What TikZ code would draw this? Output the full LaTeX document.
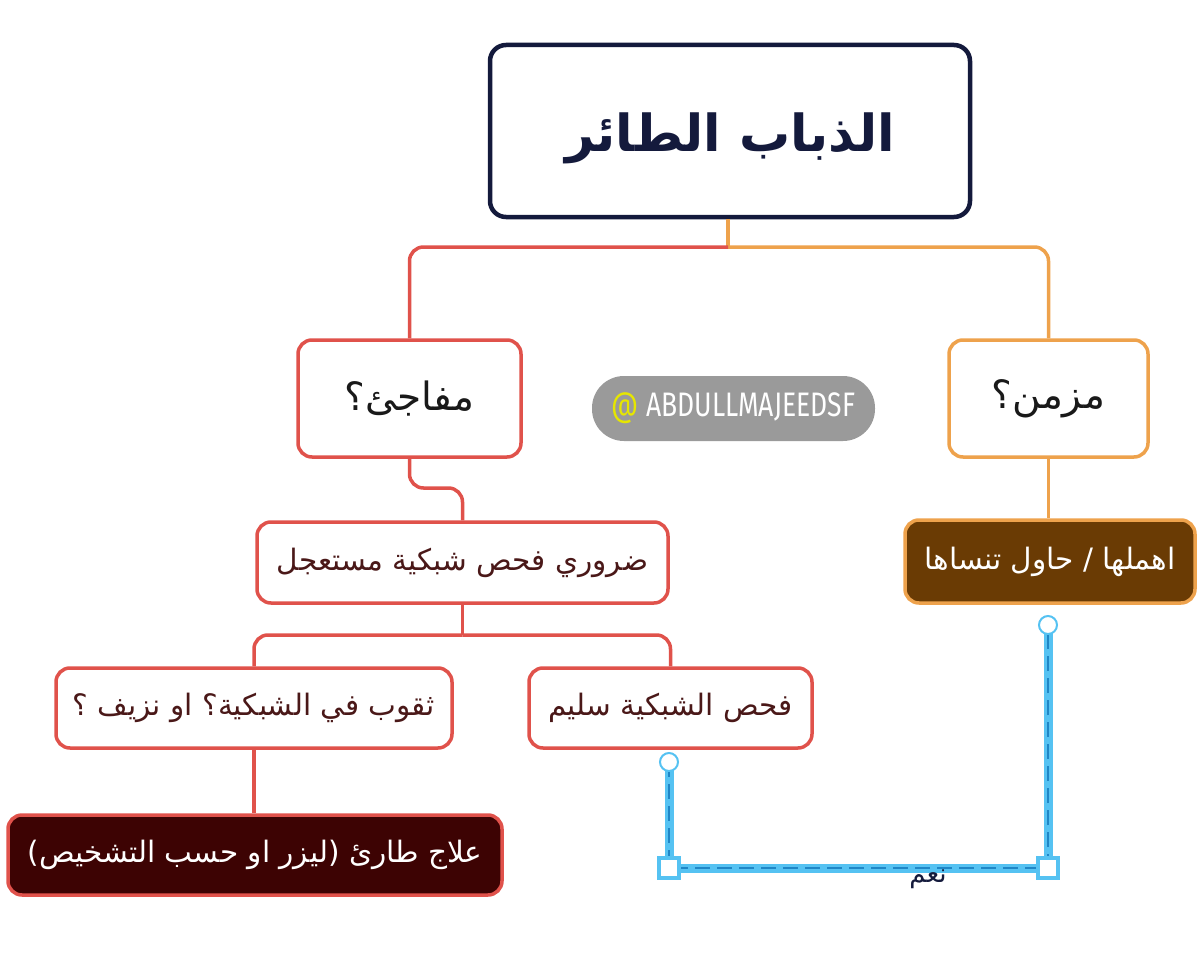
\documentclass[tikz,border=0pt]{standalone}
\usepackage{fontspec}
\setmainfont{DejaVu Sans}
\newfontfamily\arf[Script=Arabic]{DejaVu Sans}
\newfontfamily\wmf[FakeStretch=0.78]{Fira Sans}
\TeXXeTstate=1
\definecolor{navyc}{HTML}{141A3C}
\definecolor{redc}{HTML}{E0524B}
\definecolor{orangec}{HTML}{EEA24C}
\definecolor{maroonc}{HTML}{3D0303}
\definecolor{brownc}{HTML}{6A3B04}
\definecolor{subtext}{HTML}{4A1818}
\definecolor{grayc}{HTML}{9A9A9A}
\definecolor{yellowc}{HTML}{E6E600}
\definecolor{bluel}{HTML}{55C2F2}
\definecolor{blued}{HTML}{1F86C6}
\begin{document}
\begin{tikzpicture}[x=1pt,y=-1pt,
  box/.style={draw, line width=3.5pt, rounded corners=14pt, fill=white, align=center, inner sep=0pt},
  redbox/.style={box, draw=redc},
  orangebox/.style={box, draw=orangec},
  link/.style={line width=3.5pt, rounded corners=14pt},
  bigtxt/.style={font=\arf\fontsize{39}{44}\selectfont, text=black!90},
  subtxt/.style={font=\arf\fontsize{29.5}{34}\selectfont, text=subtext},
  bluethick/.style={line width=9pt, draw=bluel},
  bluedash/.style={line width=1.8pt, draw=blued, dash pattern=on 15pt off 7pt},
  endcirc/.style={circle, draw=bluel, line width=2pt, fill=white, minimum size=18pt, inner sep=0pt},
  endsq/.style={rectangle, draw=bluel, line width=3.5pt, fill=white, minimum size=20pt, inner sep=0pt}
]
\useasboundingbox (0,0) rectangle (1200,966);

% nodes
\node[box, draw=navyc, line width=4.5pt, rounded corners=16pt, minimum width=480pt, minimum height=172pt,
      font=\arf\bfseries\fontsize{51}{58}\selectfont, text=navyc] (t) at (730,131) {\raisebox{-7pt}[\height][\depth]{\beginR الذباب الطائر\endR}};
\node[redbox, minimum width=223pt, minimum height=117pt, bigtxt] (m) at (409.5,398.5) {\beginR مفاجئ؟\endR};
\node[orangebox, minimum width=199pt, minimum height=117pt, bigtxt] (z) at (1048.5,398.5) {\beginR مزمن؟\endR};
\node[redbox, minimum width=411pt, minimum height=81pt, subtxt] (d) at (462.5,562.5) {\beginR ضروري فحص شبكية مستعجل\endR};
\node[redbox, minimum width=396pt, minimum height=80pt, subtxt] (h) at (254,708) {\beginR ثقوب في الشبكية؟ او نزيف ؟\endR};
\node[redbox, minimum width=283pt, minimum height=80pt, subtxt] (s) at (670.5,708) {\beginR فحص الشبكية سليم\endR};
\node[redbox, fill=maroonc, minimum width=494pt, minimum height=80pt, subtxt, text=white] (a) at (255,855) {\beginR علاج طارئ (ليزر او حسب التشخيص)\endR};
\node[orangebox, fill=brownc, minimum width=290pt, minimum height=83pt, subtxt, text=white] (n) at (1050,561.5) {\beginR اهملها / حاول تنساها\endR};
\node[fill=grayc, rounded corners=32pt, minimum width=283pt, minimum height=65pt, inner sep=0pt,
      font=\wmf\fontsize{34}{38}\selectfont, text=white] (w) at (733.5,408.5) {\textcolor{yellowc}{@} ABDULLMAJEEDSF};

% tree connectors
\coordinate (j) at (728,247);
\draw[line width=3.5pt, orangec] (t.south -| j) -- (j);
\draw[link, orangec] (j) -| (z.north);
\draw[link, redc] (j) -| (m.north);
\coordinate (k1) at (462.5,488);
\draw[link, redc] (m.south) |- (k1) -- (d.north);
\coordinate (k2) at (462.5,635);
\draw[line width=3.5pt, redc] (d.south) -- (k2);
\draw[link, redc] (k2) -| (h.north);
\draw[link, redc] (k2) -| (s.north);
\draw[line width=3.5pt, redc] (h.south) -- (h.south |- a.north);
\draw[line width=3.5pt, orangec] (z.south) -- (z.south |- n.north);

% blue connector
\coordinate (b1) at (669,762);
\coordinate (b2) at (669,868);
\coordinate (b3) at (1048,868);
\coordinate (b4) at (1048,625);
\draw[bluethick] (b1) -- (b2) -- (b3) -- (b4);
\draw[bluedash] (b1) -- (b2) -- (b3) -- (b4);
\node[endcirc] (c1) at (b1) {};
\node[endcirc] (c4) at (b4) {};
\node[endsq] (q2) at (b2) {};
\node[endsq] (q3) at (b3) {};
\node[font=\arf\fontsize{26}{30}\selectfont, text=navyc, inner sep=0pt] (yes) at (928,879) {\beginR نعم\endR};
\end{tikzpicture}
\end{document}
